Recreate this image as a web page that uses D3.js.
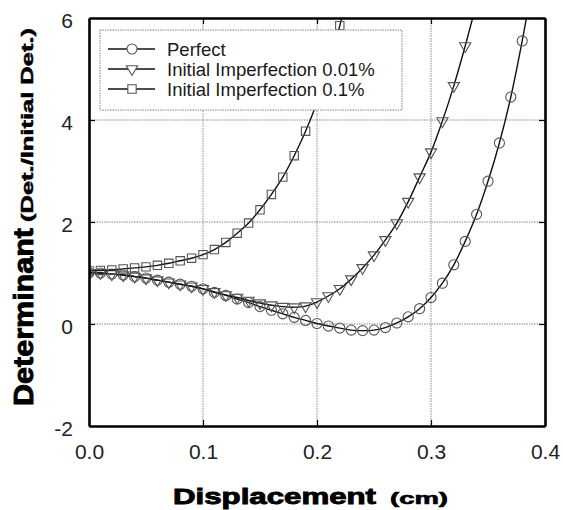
<!DOCTYPE html>
<html>
  <head>
    <meta charset="utf-8" />
    <script src="https://cdn.jsdelivr.net/npm/d3@7"></script>
    <style>
      body { margin: 0; background: #fff; }
      text { font-family: "Liberation Sans", Arial, sans-serif; }
    </style>
  </head>
  <body>
    <script>
      // displacement (cm) for each marker
      const xPerfect = [0, 0.01, 0.02, 0.03, 0.04, 0.05, 0.06, 0.07, 0.08, 0.09, 0.10, 0.11, 0.12, 0.13, 0.14, 0.15, 0.16, 0.17, 0.18, 0.19, 0.20, 0.21, 0.22, 0.23, 0.24, 0.25, 0.26, 0.27, 0.28, 0.29, 0.30, 0.31, 0.32, 0.33, 0.34, 0.35, 0.36, 0.37, 0.38, 0.39];
      const yPerfect = [1.00, 1.00, 0.98, 0.96, 0.93, 0.90, 0.86, 0.82, 0.78, 0.74, 0.69, 0.62, 0.56, 0.49, 0.42, 0.34, 0.27, 0.20, 0.13, 0.07, 0.01, -0.04, -0.08, -0.12, -0.13, -0.12, -0.07, 0.02, 0.14, 0.30, 0.52, 0.80, 1.16, 1.62, 2.15, 2.80, 3.55, 4.45, 5.55, 6.8];

      const xImp001 = [0, 0.01, 0.02, 0.03, 0.04, 0.05, 0.06, 0.07, 0.08, 0.09, 0.10, 0.11, 0.12, 0.13, 0.14, 0.15, 0.16, 0.17, 0.18, 0.19, 0.20, 0.21, 0.22, 0.23, 0.24, 0.25, 0.26, 0.27, 0.28, 0.29, 0.30, 0.31, 0.32, 0.33, 0.34];
      const yImp001 = [1.00, 1.00, 0.98, 0.96, 0.93, 0.90, 0.86, 0.82, 0.78, 0.74, 0.69, 0.63, 0.57, 0.52, 0.46, 0.41, 0.37, 0.34, 0.33, 0.35, 0.43, 0.55, 0.69, 0.88, 1.10, 1.35, 1.65, 1.98, 2.40, 2.88, 3.37, 3.98, 4.67, 5.45, 6.3];

      const xImp01 = [0, 0.01, 0.02, 0.03, 0.04, 0.05, 0.06, 0.07, 0.08, 0.09, 0.10, 0.11, 0.12, 0.13, 0.14, 0.15, 0.16, 0.17, 0.18, 0.19, 0.20, 0.21, 0.22, 0.23];
      const yImp01 = [1.04, 1.05, 1.06, 1.08, 1.10, 1.12, 1.15, 1.19, 1.24, 1.29, 1.36, 1.46, 1.60, 1.78, 1.98, 2.24, 2.54, 2.88, 3.30, 3.78, 4.35, 5.05, 5.85, 6.8];

      const seriesNames = ["Perfect", "Initial Imperfection 0.01%", "Initial Imperfection 0.1%"];
      const xTicks = [0, 0.1, 0.2, 0.3, 0.4];
      const yTicks = [-2, 0, 2, 4, 6];

      const W = 563, H = 510;
      const pLeft = 89, pRight = 545, pTop = 18, pBottom = 426;

      const svg = d3.select("body").append("svg")
        .attr("width", W).attr("height", H);

      const x = d3.scaleLinear().domain([0, 0.4]).range([pLeft, pRight]);
      const y = d3.scaleLinear().domain([-2, 6]).range([pBottom, pTop]);

      svg.append("defs").append("clipPath").attr("id", "plot")
        .append("rect")
        .attr("x", pLeft).attr("y", pTop)
        .attr("width", pRight - pLeft).attr("height", pBottom - pTop);

      // grid
      const grid = svg.append("g").attr("stroke", "#8a8a8a").attr("stroke-width", 1)
        .attr("stroke-dasharray", "1.5,1");
      grid.selectAll(".gx").data(xTicks.slice(1, -1)).enter().append("line")
        .attr("x1", d => x(d)).attr("x2", d => x(d))
        .attr("y1", pTop).attr("y2", pBottom);
      grid.selectAll(".gy").data(yTicks.slice(1, -1)).enter().append("line")
        .attr("x1", pLeft).attr("x2", pRight)
        .attr("y1", d => y(d)).attr("y2", d => y(d));

      const series = [
        { xs: xPerfect, ys: yPerfect, marker: d3.symbolCircle, size: 80 },
        { xs: xImp001, ys: yImp001, marker: d3.symbolTriangle, size: 55, flip: true },
        { xs: xImp01, ys: yImp01, marker: d3.symbolSquare, size: 70 }
      ];

      const line = d3.line()
        .x(d => x(d[0])).y(d => y(d[1]))
        .curve(d3.curveCatmullRom);

      const plot = svg.append("g").attr("clip-path", "url(#plot)");

      series.forEach(s => {
        const pts = s.xs.map((v, i) => [v, s.ys[i]]);
        plot.append("path").datum(pts)
          .attr("d", line)
          .attr("fill", "none")
          .attr("stroke", "#111")
          .attr("stroke-width", 1.4);
        plot.selectAll(null).data(pts).enter().append("path")
          .attr("d", d3.symbol().type(s.marker).size(s.size))
          .attr("transform", d => "translate(" + x(d[0]) + "," + y(d[1]) + ")" + (s.flip ? " rotate(180)" : ""))
          .attr("fill", "none")
          .attr("stroke", "#555")
          .attr("stroke-width", 1.1);
      });

      // legend
      const lg = svg.append("g");
      lg.append("rect")
        .attr("x", 100).attr("y", 30).attr("width", 302).attr("height", 80)
        .attr("fill", "#fff").attr("stroke", "#888").attr("stroke-width", 1)
        .attr("stroke-dasharray", "1.5,1");
      seriesNames.forEach((name, i) => {
        const cy = 49 + i * 20;
        lg.append("line")
          .attr("x1", 108).attr("x2", 155).attr("y1", cy).attr("y2", cy)
          .attr("stroke", "#111").attr("stroke-width", 1.4);
        lg.append("path")
          .attr("d", d3.symbol().type(series[i].marker).size(series[i].size))
          .attr("transform", "translate(132," + cy + ")" + (series[i].flip ? " rotate(180)" : ""))
          .attr("fill", "#fff").attr("stroke", "#555").attr("stroke-width", 1.1);
        lg.append("text")
          .attr("x", 167).attr("y", cy + 6.5)
          .attr("font-size", 18.5).attr("fill", "#1a1a1a")
          .text(name);
      });

      // axes
      function styleAxis(g) {
        g.select(".domain").attr("stroke", "#000").attr("stroke-width", 2.6);
        g.selectAll(".tick line").attr("stroke", "#000").attr("stroke-width", 1.2);
        g.selectAll(".tick text").attr("font-size", 21).attr("fill", "#222")
          .attr("font-family", "'Liberation Sans', Arial, sans-serif");
      }

      svg.append("g").attr("transform", "translate(0," + pBottom + ")")
        .call(d3.axisBottom(x).tickValues(xTicks).tickFormat(d => d.toFixed(1))
          .tickSizeInner(-6).tickSizeOuter(0).tickPadding(18))
        .call(styleAxis);
      svg.append("g").attr("transform", "translate(" + pLeft + ",0)")
        .call(d3.axisLeft(y).tickValues(yTicks).tickFormat(d => String(d))
          .tickSizeInner(-6).tickSizeOuter(0).tickPadding(16))
        .call(styleAxis)
        .selectAll(".tick text").attr("dy", "0.45em");
      svg.append("g").attr("transform", "translate(0," + pTop + ")")
        .call(d3.axisTop(x).tickValues(xTicks).tickFormat("")
          .tickSizeInner(-6).tickSizeOuter(0))
        .call(styleAxis);
      svg.append("g").attr("transform", "translate(" + pRight + ",0)")
        .call(d3.axisRight(y).tickValues(yTicks).tickFormat("")
          .tickSizeInner(-6).tickSizeOuter(0))
        .call(styleAxis);

      // axis titles
      svg.append("text")
        .attr("x", 173).attr("y", 504)
        .attr("font-size", 22).attr("font-weight", "bold")
        .attr("stroke", "#000").attr("stroke-width", 0.9)
        .attr("textLength", 203).attr("lengthAdjust", "spacingAndGlyphs")
        .text("Displacement");
      svg.append("text")
        .attr("x", 390).attr("y", 504)
        .attr("font-size", 16).attr("font-weight", "bold")
        .attr("stroke", "#000").attr("stroke-width", 0.6)
        .attr("textLength", 58).attr("lengthAdjust", "spacingAndGlyphs")
        .text("(cm)");

      svg.append("text")
        .attr("transform", "translate(33,406) rotate(-90)")
        .attr("font-size", 27).attr("font-weight", "bold")
        .attr("stroke", "#000").attr("stroke-width", 0.9)
        .attr("textLength", 178).attr("lengthAdjust", "spacingAndGlyphs")
        .text("Determinant");
      svg.append("text")
        .attr("transform", "translate(33,222) rotate(-90)")
        .attr("font-size", 16).attr("font-weight", "bold")
        .attr("stroke", "#000").attr("stroke-width", 0.5)
        .attr("textLength", 194).attr("lengthAdjust", "spacingAndGlyphs")
        .text("(Det./Initial Det.)");
    </script>
  </body>
</html>
